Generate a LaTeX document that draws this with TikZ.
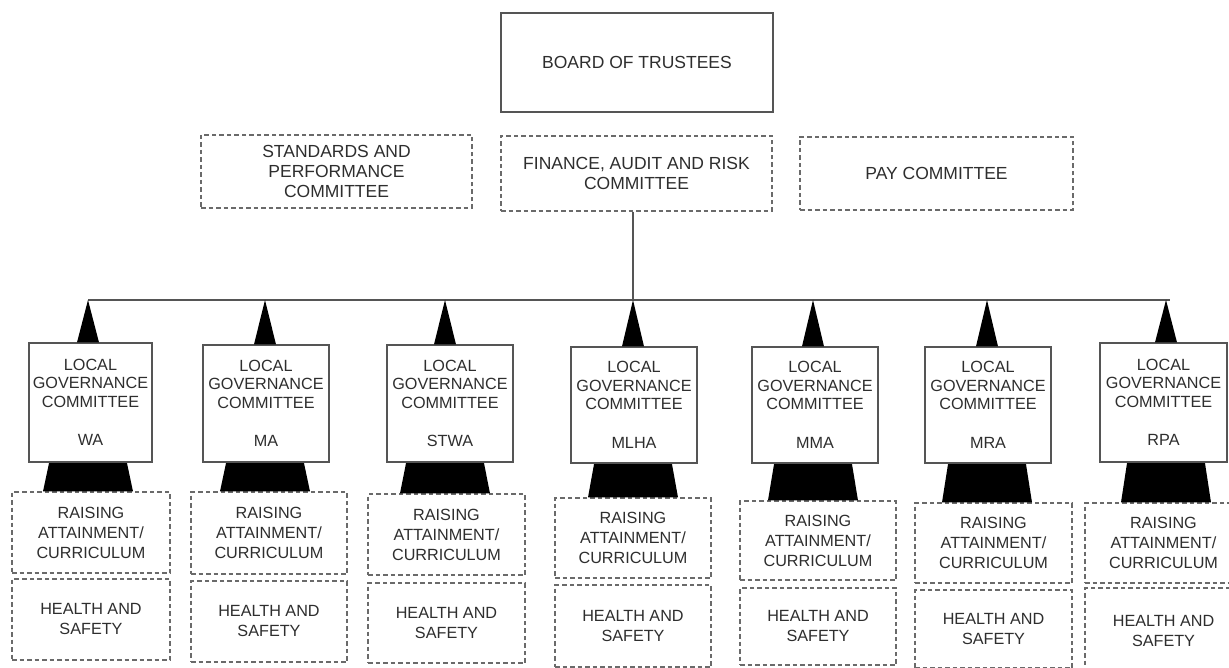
\documentclass[tikz,border=0pt]{standalone}
\usepackage{fontspec}
\setmainfont{Liberation Sans}
\usetikzlibrary{calc}
\definecolor{boxline}{HTML}{555555}
\definecolor{dashline}{HTML}{6A6A6A}
\definecolor{txt}{HTML}{2E2E2E}
\tikzset{
  solidbox/.style={draw=boxline, line width=1.2pt, fill=white, inner sep=0pt, align=center, text=txt},
  dashbox/.style={draw=dashline, line width=1.2pt, dash pattern=on 4.5pt off 3pt, inner sep=0pt, align=center, text=txt},
  topfont/.style={font=\fontsize{17.5}{20}\selectfont},
  lowfont/.style={font=\fontsize{16.2}{18.5}\selectfont},
  rafont/.style={font=\fontsize{16.2}{20}\selectfont},
  bus/.style={draw=boxline, line width=1.2pt},
  wedge/.style={fill=black, draw=none}
}
\begin{document}
\begin{tikzpicture}[x=1pt,y=-1pt]
\useasboundingbox (0,0) rectangle (1229,668);
\fill[white] (0,0) rectangle (1229,668);
% top section
\node[solidbox, topfont, minimum width=272pt, minimum height=99pt] (board) at (637,62.5) {BOARD OF TRUSTEES};
\node[dashbox, topfont, minimum width=271pt, minimum height=73pt] (stand) at (336.5,171.5) {STANDARDS AND\\PERFORMANCE\\COMMITTEE};
\node[dashbox, topfont, minimum width=271pt, minimum height=75pt] (fin) at (636.5,173.5) {FINANCE, AUDIT AND RISK\\COMMITTEE};
\node[dashbox, topfont, minimum width=273pt, minimum height=73pt] (pay) at (936.5,173.5) {PAY COMMITTEE};
% bus
\coordinate (busL) at (88,300);
\coordinate (busR) at (1170,300);
\coordinate (busM) at (633,300);
\draw[bus] (busL) -- (busR);
\draw[bus] (fin.south -| busM) -- (busM);
% columns
\foreach \lx/\rx/\lt/\lb/\tip/\ral/\rar/\rat/\rab/\hst/\hsb/\lab/\n in {
  29/152/343/462/88/12/170/492/573/579/660/WA/1,
  203/329/345/462/265/191/347/492/574/581/662/MA/2,
  387/513/345/462/445/368/525/494/575/583/663/STWA/3,
  571/697/347/463/633/555/711/498/578/585/667/MLHA/4,
  752/878/347/463/813/740/896/501/580/588/665/MMA/5,
  925/1051/347/463/987/915/1072/503/583/590/668/MRA/6,
  1100/1227/343/462/1166/1085/1242/503/583/588/674/RPA/7}{
  \pgfmathsetmacro{\lcx}{(\lx+\rx)/2}
  \pgfmathsetmacro{\lcy}{(\lt+\lb)/2}
  \pgfmathsetmacro{\lw}{\rx-\lx}
  \pgfmathsetmacro{\lh}{\lb-\lt}
  \pgfmathsetmacro{\rcx}{(\ral+\rar)/2}
  \pgfmathsetmacro{\rcy}{(\rat+\rab)/2}
  \pgfmathsetmacro{\rw}{\rar-\ral}
  \pgfmathsetmacro{\rh}{\rab-\rat}
  \pgfmathsetmacro{\hcy}{(\hst+\hsb)/2}
  \pgfmathsetmacro{\hh}{\hsb-\hst}
  \coordinate (t\n) at (\tip,300);
  \node[solidbox, lowfont, minimum width=\lw pt, minimum height=\lh pt] (l\n) at (\lcx,\lcy) {LOCAL\\GOVERNANCE\\COMMITTEE\\[20pt]\lab};
  \node[dashbox, rafont, minimum width=\rw pt, minimum height=\rh pt] (r\n) at (\rcx,\rcy) {RAISING\\ATTAINMENT/\\CURRICULUM};
  \node[dashbox, rafont, minimum width=\rw pt, minimum height=\hh pt] (h\n) at (\rcx,\hcy) {HEALTH AND\\SAFETY};
  \fill[wedge] (t\n) -- ($(t\n |- l\n.north)+(11,0)$) -- ($(t\n |- l\n.north)+(-11,0)$) -- cycle;
  \fill[wedge] ($(t\n |- l\n.south)+(-39,0.6)$) -- ($(t\n |- l\n.south)+(39,0.6)$) -- ($(t\n |- r\n.north)+(45,0)$) -- ($(t\n |- r\n.north)+(-45,0)$) -- cycle;
}
\end{tikzpicture}
\end{document}
